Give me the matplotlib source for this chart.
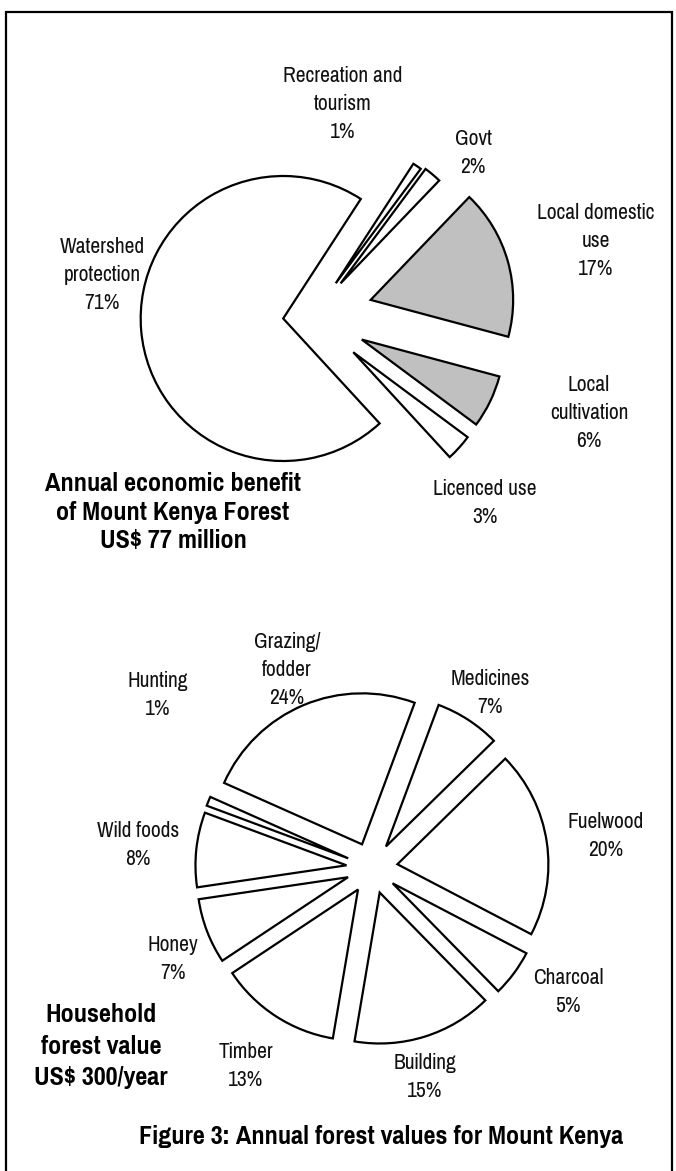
import matplotlib
matplotlib.use('Agg')
import matplotlib.pyplot as plt
from matplotlib.patches import Rectangle
from matplotlib import font_manager

W, H = 676, 1171

# ---- data ----
top_labels = ['Recreation and\ntourism', 'Govt', 'Local domestic\nuse',
              'Local\ncultivation', 'Licenced use', 'Watershed\nprotection']
top_values = [1, 2, 17, 6, 3, 71]
bottom_labels = ['Grazing/\nfodder', 'Medicines', 'Fuelwood', 'Charcoal',
                 'Building', 'Timber', 'Honey', 'Wild foods', 'Hunting']
bottom_values = [24, 7, 20, 5, 15, 13, 7, 8, 1]
title_top = 'Annual economic benefit\nof Mount Kenya Forest\nUS$ 77 million'
title_bottom = 'Household\nforest value\nUS$ 300/year'
caption = 'Figure 3: Annual forest values for Mount Kenya'

# ---- layout / style ----
top_colors = ['white', 'white', '#c0c0c0', '#c0c0c0', 'white', 'white']
top_explode = [0.28, 0.30, 0.42, 0.38, 0.38, 0.21]
top_center = (313, 316)
top_radius = 142.5
top_start = 57

bottom_colors = ['white'] * len(bottom_values)
bottom_explode = [0.17] * len(bottom_values)
bottom_center = (372, 868)
bottom_radius = 151
bottom_start = 156

top_label_pos = [(343, 104), (473, 153), (596, 241), (589, 413), (485, 503), (102, 275)]
bottom_label_pos = [(287, 670), (490, 693), (606, 836), (568, 992), (425, 1077),
                    (246, 1066), (173, 959), (138, 845), (158, 695)]
title_top_pos = (173, 512)
title_bottom_pos = (101, 1046)
caption_pos = (381, 1136)

names = {f.name for f in font_manager.fontManager.ttflist}
FAM = next((n for n in ['Arial Narrow', 'Liberation Sans Narrow', 'Pragati Narrow',
                        'Archivo Narrow', 'Roboto Condensed'] if n in names), 'DejaVu Sans')

fig = plt.figure(figsize=(W / 100, H / 100), dpi=100)
ax = fig.add_axes([0, 0, 1, 1])

wp = dict(edgecolor='black', linewidth=1.6, joinstyle='miter')
ax.pie(top_values, startangle=top_start, counterclock=False,
       center=(top_center[0], H - top_center[1]), radius=top_radius,
       explode=[e * top_radius for e in top_explode], colors=top_colors,
       wedgeprops=wp, frame=True)
ax.pie(bottom_values, startangle=bottom_start, counterclock=False,
       center=(bottom_center[0], H - bottom_center[1]), radius=bottom_radius,
       explode=[e * bottom_radius for e in bottom_explode], colors=bottom_colors,
       wedgeprops=wp, frame=True)

ax.set_xlim(0, W)
ax.set_ylim(0, H)
ax.set_aspect('equal')
ax.set_axis_off()

lab_kw = dict(ha='center', va='center', fontsize=16.8, family=FAM, linespacing=1.52,
              color='#111111')
for lab, val, (x, y) in zip(top_labels, top_values, top_label_pos):
    ax.text(x, H - y, f'{lab}\n{val}%', **lab_kw)
for lab, val, (x, y) in zip(bottom_labels, bottom_values, bottom_label_pos):
    ax.text(x, H - y, f'{lab}\n{val}%', **lab_kw)

bold_kw = dict(ha='center', va='center', fontsize=20.5, family=FAM, fontweight='bold',
               color='black')
ax.text(title_top_pos[0], H - title_top_pos[1], title_top, linespacing=1.28, **bold_kw)
ax.text(title_bottom_pos[0], H - title_bottom_pos[1], title_bottom, linespacing=1.45,
        **bold_kw)
ax.text(caption_pos[0], H - caption_pos[1], caption, **bold_kw)

ax.add_patch(Rectangle((6, -30), 666, H - 12 + 30, fill=False, edgecolor='black',
                       linewidth=1.6, clip_on=False))

fig.savefig('out.png', dpi=100)
